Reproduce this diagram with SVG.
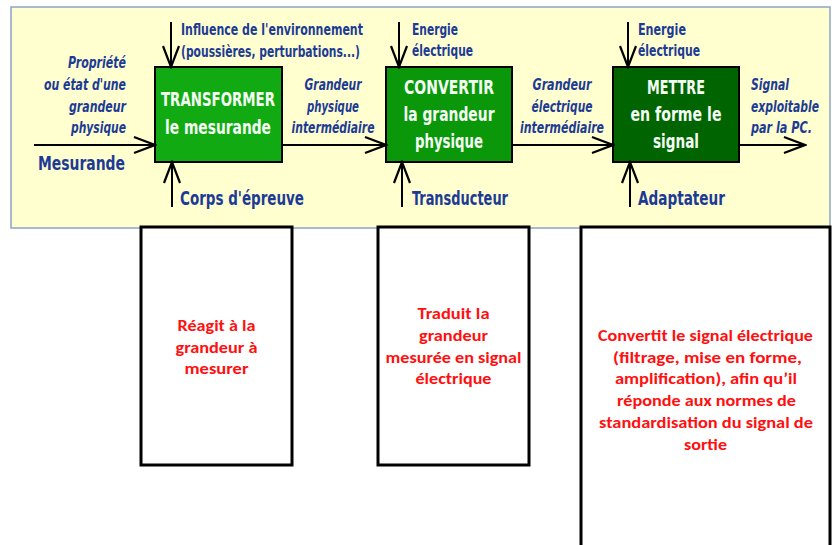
<svg xmlns="http://www.w3.org/2000/svg" width="835" height="545" viewBox="0 0 835 545">
  <defs>
    <marker id="head" viewBox="-24 -11 26 22" markerWidth="26" markerHeight="22" refX="0" refY="0" orient="auto" markerUnits="userSpaceOnUse">
      <path d="M-21,-8 L0,0 L-21,8" fill="none" stroke="#000" stroke-width="2.2" stroke-linejoin="miter"/>
    </marker>
  </defs>
  <style>
    .panel { fill: #FFFFCF; stroke: #8EA3C9; stroke-width: 1.5; }
    .blk { stroke: #000; stroke-width: 2; }
    .lbl { font-family: "Liberation Sans Narrow", "DejaVu Sans Condensed", "Liberation Sans", sans-serif; font-weight: bold; fill: #1D3B95; font-size: 15.5px; }
    .big { font-size: 19px; }
    .it { font-style: italic; }
    .in { font-family: "Liberation Sans Narrow", "DejaVu Sans Condensed", "Liberation Sans", sans-serif; font-weight: bold; fill: #F4FFF4; font-size: 19px; text-anchor: middle; }
    .wire { fill: none; stroke: #000; stroke-width: 2; marker-end: url(#head); }
    .note { fill: #fff; stroke: #000; stroke-width: 3; }
    .red { font-family: "Carlito", "Lato", "Liberation Sans", sans-serif; font-weight: bold; fill: #FF1010; font-size: 16.5px; text-anchor: middle; }
  </style>

  <!-- background panel of the measuring chain -->
  <rect class="panel" x="11" y="7" width="819" height="221"/>

  <!-- processing blocks -->
  <g id="transformer">
    <rect class="blk" x="155" y="67" width="127" height="95" fill="#12AA12"/>
    <text class="in" x="218" y="106" textLength="114" lengthAdjust="spacingAndGlyphs">TRANSFORMER</text>
    <text class="in" x="218" y="134" textLength="106" lengthAdjust="spacingAndGlyphs">le mesurande</text>
  </g>
  <g id="convertir">
    <rect class="blk" x="386" y="67" width="126" height="95" fill="#0A970A"/>
    <text class="in" x="449" y="94" textLength="90" lengthAdjust="spacingAndGlyphs">CONVERTIR</text>
    <text class="in" x="449" y="121" textLength="91" lengthAdjust="spacingAndGlyphs">la grandeur</text>
    <text class="in" x="449" y="148" textLength="68" lengthAdjust="spacingAndGlyphs">physique</text>
  </g>
  <g id="mettre">
    <rect class="blk" x="613" y="67" width="126" height="95" fill="#006400"/>
    <text class="in" x="676" y="94" textLength="58" lengthAdjust="spacingAndGlyphs">METTRE</text>
    <text class="in" x="676" y="121" textLength="91" lengthAdjust="spacingAndGlyphs">en forme le</text>
    <text class="in" x="676" y="148" textLength="46" lengthAdjust="spacingAndGlyphs">signal</text>
  </g>

  <!-- connectors -->
  <g id="connectors">
    <path class="wire" d="M34,145 H155"/>
    <path class="wire" d="M282,145 H386"/>
    <path class="wire" d="M512,145 H613"/>
    <path class="wire" d="M739,145 H805"/>
    <path class="wire" d="M171,22 V67"/>
    <path class="wire" d="M399,22 V67"/>
    <path class="wire" d="M628,22 V67"/>
    <path class="wire" d="M172,207 V162"/>
    <path class="wire" d="M402,207 V162"/>
    <path class="wire" d="M630,207 V162"/>
  </g>

  <!-- labels around the chain -->
  <g id="labels">
    <text class="lbl it" text-anchor="end" x="126" y="68" textLength="58" lengthAdjust="spacingAndGlyphs">Propriété</text>
    <text class="lbl it" text-anchor="end" x="126" y="90" textLength="82" lengthAdjust="spacingAndGlyphs">ou état d'une</text>
    <text class="lbl it" text-anchor="end" x="126" y="112" textLength="57" lengthAdjust="spacingAndGlyphs">grandeur</text>
    <text class="lbl it" text-anchor="end" x="126" y="133" textLength="55" lengthAdjust="spacingAndGlyphs">physique</text>
    <text class="lbl big" x="38" y="170" textLength="87" lengthAdjust="spacingAndGlyphs">Mesurande</text>

    <text class="lbl" x="181" y="35" textLength="182" lengthAdjust="spacingAndGlyphs">Influence de l'environnement</text>
    <text class="lbl" x="181" y="57" textLength="179" lengthAdjust="spacingAndGlyphs">(poussières, perturbations...)</text>
    <text class="lbl big" x="180" y="205" textLength="124" lengthAdjust="spacingAndGlyphs">Corps d'épreuve</text>

    <text class="lbl it" text-anchor="middle" x="333" y="90" textLength="57" lengthAdjust="spacingAndGlyphs">Grandeur</text>
    <text class="lbl it" text-anchor="middle" x="333" y="112" textLength="52" lengthAdjust="spacingAndGlyphs">physique</text>
    <text class="lbl it" text-anchor="middle" x="333" y="133" textLength="83" lengthAdjust="spacingAndGlyphs">intermédiaire</text>

    <text class="lbl" x="412" y="35" textLength="46" lengthAdjust="spacingAndGlyphs">Energie</text>
    <text class="lbl" x="412" y="56" textLength="61" lengthAdjust="spacingAndGlyphs">électrique</text>
    <text class="lbl big" x="412" y="205" textLength="96" lengthAdjust="spacingAndGlyphs">Transducteur</text>

    <text class="lbl it" text-anchor="middle" x="562" y="90" textLength="59" lengthAdjust="spacingAndGlyphs">Grandeur</text>
    <text class="lbl it" text-anchor="middle" x="562" y="112" textLength="61" lengthAdjust="spacingAndGlyphs">électrique</text>
    <text class="lbl it" text-anchor="middle" x="562" y="133" textLength="84" lengthAdjust="spacingAndGlyphs">intermédiaire</text>

    <text class="lbl" x="638" y="35" textLength="48" lengthAdjust="spacingAndGlyphs">Energie</text>
    <text class="lbl" x="638" y="56" textLength="62" lengthAdjust="spacingAndGlyphs">électrique</text>
    <text class="lbl big" x="638" y="205" textLength="87" lengthAdjust="spacingAndGlyphs">Adaptateur</text>

    <text class="lbl it" x="751" y="90" textLength="38" lengthAdjust="spacingAndGlyphs">Signal</text>
    <text class="lbl it" x="751" y="112" textLength="68" lengthAdjust="spacingAndGlyphs">exploitable</text>
    <text class="lbl it" x="751" y="133" textLength="61" lengthAdjust="spacingAndGlyphs">par la PC.</text>
  </g>

  <!-- explanation boxes -->
  <g id="note-transformer">
    <rect class="note" x="141" y="227" width="151" height="238"/>
    <text class="red" x="216.5" y="331" textLength="78" lengthAdjust="spacingAndGlyphs">Réagit à la</text>
    <text class="red" x="216.5" y="353" textLength="82" lengthAdjust="spacingAndGlyphs">grandeur à</text>
    <text class="red" x="216.5" y="374" textLength="64" lengthAdjust="spacingAndGlyphs">mesurer</text>
  </g>
  <g id="note-convertir">
    <rect class="note" x="378" y="227" width="151" height="238"/>
    <text class="red" x="453.5" y="319" textLength="72" lengthAdjust="spacingAndGlyphs">Traduit la</text>
    <text class="red" x="453.5" y="341" textLength="69" lengthAdjust="spacingAndGlyphs">grandeur</text>
    <text class="red" x="453.5" y="363" textLength="136" lengthAdjust="spacingAndGlyphs">mesurée en signal</text>
    <text class="red" x="453.5" y="384" textLength="76" lengthAdjust="spacingAndGlyphs">électrique</text>
  </g>
  <g id="note-mettre">
    <rect class="note" x="581" y="227" width="249" height="330"/>
    <text class="red" x="705.5" y="341" textLength="215" lengthAdjust="spacingAndGlyphs">Convertit le signal électrique</text>
    <text class="red" x="707.5" y="363" textLength="189" lengthAdjust="spacingAndGlyphs">(filtrage, mise en forme,</text>
    <text class="red" x="706" y="384" textLength="182" lengthAdjust="spacingAndGlyphs">amplification), afin qu’il</text>
    <text class="red" x="706.5" y="406" textLength="179" lengthAdjust="spacingAndGlyphs">réponde aux normes de</text>
    <text class="red" x="706" y="428" textLength="214" lengthAdjust="spacingAndGlyphs">standardisation du signal de</text>
    <text class="red" x="705.5" y="450" textLength="43" lengthAdjust="spacingAndGlyphs">sortie</text>
  </g>
</svg>
